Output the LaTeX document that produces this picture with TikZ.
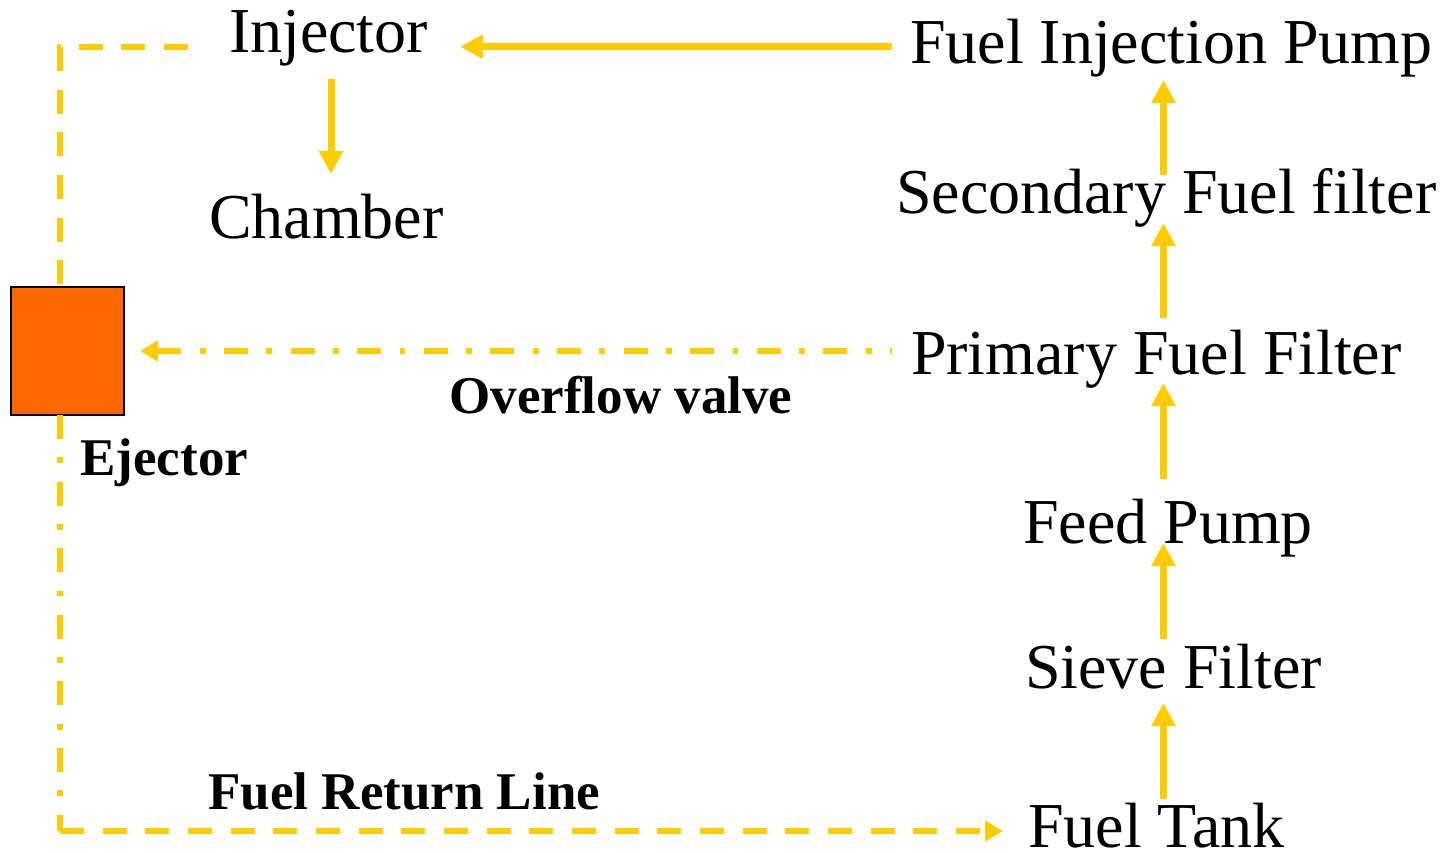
\documentclass[tikz,border=0pt]{standalone}
\usepackage{fontspec}
\setmainfont{Liberation Serif}
\usetikzlibrary{arrows.meta}
\definecolor{fuel}{RGB}{255,204,0}
\definecolor{ejorange}{RGB}{255,102,0}
\tikzset{
  lbl/.style={anchor=base west, inner sep=0pt, outer sep=0pt, text height=22pt, text depth=0pt, font=\fontsize{32pt}{38pt}\selectfont},
  blbl/.style={anchor=base west, inner sep=0pt, font=\fontsize{26.5pt}{32pt}\selectfont\bfseries},
  arr/.style={draw=fuel, line width=3.5pt, -{Triangle[length=11.5pt,width=11.5pt]}},
  dline/.style={draw=fuel, line width=2.75pt, dash pattern=on 12pt off 9.33pt},
  ddline/.style={draw=fuel, line width=2.75pt, dash pattern=on 12pt off 9.2pt on 2.9pt off 9.2pt},
  smalltip/.style={-{Triangle[length=9pt,width=10pt]}},
  ejbox/.style={draw=black, line width=1pt, fill=ejorange, minimum width=56.5pt, minimum height=64pt, inner sep=0pt, outer sep=0pt}
}
\begin{document}
\begin{tikzpicture}[x=0.5pt,y=-0.5pt]
\useasboundingbox (0,0) rectangle (1449,852);
% nodes
\node[lbl] (inj) at (229,52) {Injector};
\node[lbl] (cham) at (209,238) {Chamber};
\node[lbl] (fip) at (910,63) {Fuel Injection Pump};
\node[lbl] (sec) at (896,213) {Secondary Fuel filter};
\node[lbl] (prim) at (911,374) {Primary Fuel Filter};
\node[lbl] (feed) at (1023,543) {Feed Pump};
\node[lbl] (sieve) at (1025,688) {Sieve Filter};
\node[lbl] (tank) at (1028,847) {Fuel Tank};
\node[ejbox] (ej) at (67.5,351) {};
\node[blbl] (ovl) at (449,413) {Overflow valve};
\node[blbl] (ejl) at (80,475) {Ejector};
\node[blbl] (frl) at (208,809) {Fuel Return Line};
% helper coordinates
\coordinate (ax) at (1163.5,0);
\coordinate (cx) at (331,0);
\coordinate (lx) at (60,0);
\coordinate (corner) at (60,831);
% main flow
\draw[arr, shorten <=2pt, shorten >=7.5pt] (tank.north -| ax) -- (sieve.south -| ax);
\draw[arr, shorten <=2.5pt] (sieve.north -| ax) -- (feed.south -| ax);
\draw[arr, shorten <=10pt, shorten >=4.5pt] (feed.north -| ax) -- (prim.south -| ax);
\draw[arr, shorten <=6pt, shorten >=5pt] (prim.north -| ax) -- (sec.south -| ax);
\draw[arr, shorten <=-3pt, shorten >=8.5pt] (sec.north -| ax) -- (fip.south -| ax);
\draw[arr, shorten <=9pt, shorten >=16pt] ([yshift=-2.85pt]fip.west) -- ([yshift=-2.85pt]fip.west -| inj.east);
\draw[arr, shorten <=13.5pt, shorten >=10pt] (inj.south -| cx) -- (cham.north -| cx);
% return lines
\draw[dline] ([xshift=-20.5pt,yshift=-8.5pt]inj.west) -| (ej.north -| lx);
\draw[ddline, smalltip, dash phase=11pt, shorten <=9.5pt, shorten >=8pt] ([yshift=0.5pt]prim.west) -- (ej.east);
\draw[ddline] (ej.south -| lx) -- (corner);
\draw[dline, smalltip, shorten >=12.5pt] (corner) -- ([yshift=-3pt]tank.west);
\end{tikzpicture}
\end{document}
